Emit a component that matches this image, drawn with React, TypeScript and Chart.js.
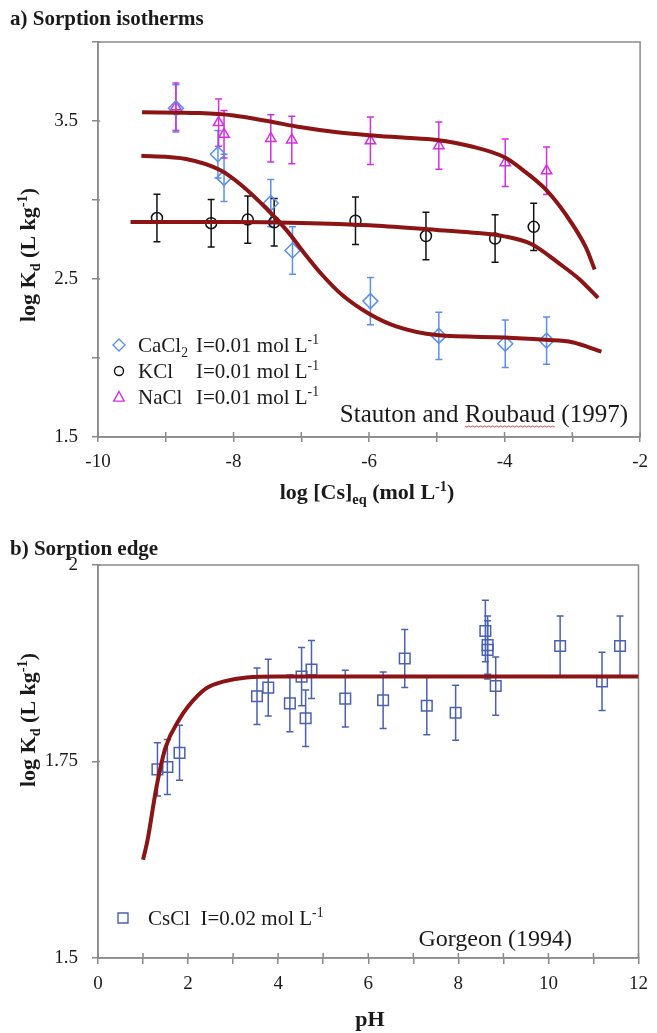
import React, { useEffect, useRef } from 'react';
import { Chart, registerables } from 'chart.js';

Chart.register(...registerables);

// ---------- Panel a: sorption isotherms ----------
const caX = [-8.85, -8.23, -8.14, -7.45, -7.13, -5.98, -4.97, -3.99, -3.38];
const caY = [3.58, 3.29, 3.14, 2.98, 2.68, 2.36, 2.14, 2.09, 2.11];
const caErr = [0.15, 0.15, 0.15, 0.15, 0.15, 0.15, 0.15, 0.15, 0.15];

const kX = [-9.13, -8.33, -7.79, -7.4, -6.2, -5.16, -4.14, -3.57];
const kY = [2.886, 2.853, 2.876, 2.859, 2.869, 2.772, 2.756, 2.83];
const kErr = [0.15, 0.15, 0.15, 0.15, 0.15, 0.15, 0.15, 0.15];

const naX = [-8.85, -8.22, -8.14, -7.45, -7.14, -5.98, -4.97, -3.99, -3.38];
const naY = [3.59, 3.49, 3.416, 3.39, 3.38, 3.375, 3.344, 3.236, 3.185];
const naErr = [0.15, 0.15, 0.15, 0.15, 0.15, 0.15, 0.15, 0.15, 0.15];

const caFitX = [-9.36, -8.7, -8.2, -7.9, -7.5, -7.2, -6.95, -6.7, -6.4, -6.0, -5.6, -5.0, -4.0, -3.4, -3.0, -2.57];
const caFitY = [3.28, 3.26, 3.19, 3.1, 2.94, 2.8, 2.66, 2.53, 2.4, 2.28, 2.2, 2.145, 2.13, 2.115, 2.1, 2.04];

const kFitX = [-9.52, -8.0, -7.0, -6.0, -5.0, -4.5, -4.0, -3.6, -3.2, -2.9, -2.62];
const kFitY = [2.86, 2.86, 2.855, 2.84, 2.81, 2.795, 2.77, 2.72, 2.6, 2.5, 2.38];

const naFitX = [-9.35, -8.5, -8.0, -7.5, -7.0, -6.5, -6.0, -5.5, -5.0, -4.5, -4.0, -3.7, -3.4, -3.1, -2.8, -2.67];
const naFitY = [3.555, 3.55, 3.535, 3.5, 3.46, 3.43, 3.41, 3.395, 3.38, 3.34, 3.27, 3.18, 3.07, 2.91, 2.7, 2.56];

// ---------- Panel b: sorption edge ----------
const phX = [1.32, 1.54, 1.81, 3.53, 3.78, 4.26, 4.52, 4.61, 4.74, 5.49, 6.33, 6.81, 7.3, 7.94, 8.6, 8.65, 8.65, 8.83, 10.26, 11.19, 11.59];
const phY = [1.74, 1.743, 1.761, 1.833, 1.844, 1.824, 1.858, 1.805, 1.867, 1.83, 1.828, 1.881, 1.821, 1.812, 1.916, 1.898, 1.892, 1.846, 1.897, 1.852, 1.897];
const phErr = [0.034, 0.035, 0.035, 0.036, 0.036, 0.036, 0.037, 0.036, 0.037, 0.036, 0.036, 0.037, 0.037, 0.035, 0.039, 0.037, 0.037, 0.037, 0.038, 0.037, 0.038];

const phFitX = [1.0, 1.1, 1.3, 1.5, 1.8, 2.0, 2.4, 2.8, 3.3, 4.0, 12.0];
const phFitY = [1.625, 1.65, 1.718, 1.768, 1.803, 1.82, 1.843, 1.852, 1.857, 1.858, 1.858];

const topXTicks = [-10, -8, -6, -4, -2];
const topYTicks = [1.5, 2.5, 3.5];
const botXTicks = [0, 2, 4, 6, 8, 10, 12];
const botYTicks = [1.5, 1.75, 2];

const FONT = '"Liberation Serif", "Times New Roman", serif';
const FIT = '#8c1414';
const AXIS = '#8a8a8a';
const TXT = '#1a1a1a';
const C_CA = '#5b8ff0';
const C_K = '#111111';
const C_NA = '#d22fe0';
const C_CS = '#4a60b2';

type Seg = { t: string; s?: 'sub' | 'sup' };

function segFont(size: number, bold: boolean, s?: string) {
  const fs = s ? size * 0.65 : size;
  return `${bold ? 'bold ' : ''}${fs}px ${FONT}`;
}
function richWidth(ctx: CanvasRenderingContext2D, segs: Seg[], size: number, bold: boolean) {
  let w = 0;
  for (const sg of segs) {
    ctx.font = segFont(size, bold, sg.s);
    w += ctx.measureText(sg.t).width;
  }
  return w;
}
function drawRich(ctx: CanvasRenderingContext2D, segs: Seg[], x: number, y: number, size: number, bold: boolean, color: string, align = 'left') {
  const w = richWidth(ctx, segs, size, bold);
  let cx = align === 'center' ? x - w / 2 : align === 'right' ? x - w : x;
  ctx.save();
  ctx.fillStyle = color;
  ctx.textAlign = 'left';
  ctx.textBaseline = 'alphabetic';
  const starts: number[] = [];
  for (const sg of segs) {
    ctx.font = segFont(size, bold, sg.s);
    const dy = sg.s === 'sub' ? size * 0.22 : sg.s === 'sup' ? -size * 0.38 : 0;
    starts.push(cx);
    ctx.fillText(sg.t, cx, y + dy);
    cx += ctx.measureText(sg.t).width;
  }
  starts.push(cx);
  ctx.restore();
  return starts;
}

function pts(xs: number[], ys: number[]) {
  return xs.map((x, i) => ({ x, y: ys[i] }));
}

function marker(ctx: CanvasRenderingContext2D, kind: string, x: number, y: number, r: number, color: string) {
  ctx.save();
  ctx.strokeStyle = color;
  ctx.lineWidth = 1.4;
  ctx.beginPath();
  if (kind === 'diamond') {
    ctx.moveTo(x, y - r); ctx.lineTo(x + r, y); ctx.lineTo(x, y + r); ctx.lineTo(x - r, y); ctx.closePath();
  } else if (kind === 'circle') {
    ctx.arc(x, y, r, 0, Math.PI * 2);
  } else if (kind === 'triangle') {
    ctx.moveTo(x, y - r); ctx.lineTo(x + r * 0.95, y + r * 0.75); ctx.lineTo(x - r * 0.95, y + r * 0.75); ctx.closePath();
  } else {
    ctx.rect(x - r, y - r, 2 * r, 2 * r);
  }
  ctx.stroke();
  ctx.restore();
}

const errorBarPlugin = {
  id: 'errorBars',
  beforeDatasetsDraw(chart: any) {
    const { ctx } = chart;
    const xs = chart.scales.x;
    const ys = chart.scales.y;
    chart.data.datasets.forEach((ds: any) => {
      if (!ds.errors) return;
      ctx.save();
      ctx.strokeStyle = ds.errColor;
      ctx.lineWidth = 1.5;
      ds.data.forEach((p: any, i: number) => {
        const e = ds.errors[i];
        const px = xs.getPixelForValue(p.x);
        const y1 = ys.getPixelForValue(p.y + e);
        const y2 = ys.getPixelForValue(p.y - e);
        ctx.beginPath();
        ctx.moveTo(px, y1); ctx.lineTo(px, y2);
        ctx.moveTo(px - 3.5, y1); ctx.lineTo(px + 3.5, y1);
        ctx.moveTo(px - 3.5, y2); ctx.lineTo(px + 3.5, y2);
        ctx.stroke();
      });
      ctx.restore();
    });
  },
};

const boxPlugin = {
  id: 'box',
  beforeDatasetsDraw(chart: any) {
    const { ctx, chartArea: a } = chart;
    ctx.save();
    ctx.strokeStyle = AXIS;
    ctx.lineWidth = 1.5;
    ctx.strokeRect(a.left, a.top, a.right - a.left, a.bottom - a.top);
    // inner half of the x ticks (ticks cross the axis)
    const xs = chart.scales.x;
    ctx.beginPath();
    xs.ticks.forEach((t: any) => {
      const px = xs.getPixelForValue(t.value);
      ctx.moveTo(px, a.bottom);
      ctx.lineTo(px, a.bottom - 5);
    });
    const ys = chart.scales.y;
    ys.ticks.forEach((t: any) => {
      const py = ys.getPixelForValue(t.value);
      ctx.moveTo(a.left, py);
      ctx.lineTo(a.left + 2, py);
    });
    ctx.stroke();
    ctx.restore();
  },
};

function axisScale(min: number, max: number, step: number, labels: number[], decimals: number, tickPad: number, tickLen: number, fit: (s: any) => void) {
  return {
    type: 'linear',
    min,
    max,
    afterFit: fit,
    border: { display: true, color: AXIS, width: 1.5 },
    grid: { display: true, drawOnChartArea: false, drawTicks: true, tickLength: tickLen, color: AXIS, tickColor: AXIS, lineWidth: 1.5 },
    ticks: {
      stepSize: step,
      autoSkip: false,
      maxRotation: 0,
      padding: tickPad,
      color: TXT,
      font: { family: FONT, size: 19 },
      callback: (v: number) => {
        const hit = labels.some((l) => Math.abs(l - v) < 1e-6);
        return hit ? String(Number(v.toFixed(decimals))) : '';
      },
    },
  };
}

function makeTopConfig() {
  const overlay = {
    id: 'overlayA',
    afterDraw(chart: any) {
      const ctx: CanvasRenderingContext2D = chart.ctx;
      drawRich(ctx, [{ t: 'a) Sorption isotherms' }], 10, 25, 21, true, TXT);
      ctx.save();
      ctx.translate(27, 255);
      ctx.rotate(-Math.PI / 2);
      drawRich(ctx, [{ t: 'log K' }, { t: 'd', s: 'sub' }, { t: ' (L kg' }, { t: '-1', s: 'sup' }, { t: ')' }], 0, 8, 22, true, TXT, 'center');
      ctx.restore();
      drawRich(ctx, [{ t: 'log [Cs]' }, { t: 'eq', s: 'sub' }, { t: ' (mol L' }, { t: '-1', s: 'sup' }, { t: ')' }], 367, 499, 22, true, TXT, 'center');
      const rows = [
        { kind: 'diamond', color: C_CA, name: [{ t: 'CaCl' }, { t: '2', s: 'sub' }] as Seg[], y: 345, r: 6 },
        { kind: 'circle', color: C_K, name: [{ t: 'KCl' }] as Seg[], y: 371, r: 4.5 },
        { kind: 'triangle', color: C_NA, name: [{ t: 'NaCl' }] as Seg[], y: 397, r: 5.5 },
      ];
      rows.forEach((r) => {
        marker(ctx, r.kind, 119, r.y, r.r, r.color);
        drawRich(ctx, r.name, 138, r.y + 7, 21, false, TXT);
        drawRich(ctx, [{ t: 'I=0.01 mol L' }, { t: '-1', s: 'sup' }], 196, r.y + 7, 21, false, TXT);
      });
      const st = drawRich(ctx, [{ t: 'Stauton and ' }, { t: 'Roubaud' }, { t: ' (1997)' }], 628, 422, 25, false, TXT, 'right');
      ctx.save();
      ctx.strokeStyle = '#e05050';
      ctx.lineWidth = 1;
      ctx.beginPath();
      for (let xx = st[1]; xx <= st[2]; xx += 2) {
        const yy = 426 + ((Math.round((xx - st[1]) / 2) % 2) ? 1 : 0);
        if (xx === st[1]) ctx.moveTo(xx, yy); else ctx.lineTo(xx, yy);
      }
      ctx.stroke();
      ctx.restore();
    },
  };
  return {
    type: 'scatter',
    data: {
      datasets: [
        { type: 'line', data: pts(caFitX, caFitY), borderColor: FIT, borderWidth: 4, pointRadius: 0, cubicInterpolationMode: 'monotone', fill: false, order: 0 },
        { type: 'line', data: pts(kFitX, kFitY), borderColor: FIT, borderWidth: 4, pointRadius: 0, cubicInterpolationMode: 'monotone', fill: false, order: 0 },
        { type: 'line', data: pts(naFitX, naFitY), borderColor: FIT, borderWidth: 4, pointRadius: 0, cubicInterpolationMode: 'monotone', fill: false, order: 0 },
        { data: pts(caX, caY), errors: caErr, errColor: C_CA, pointStyle: 'rectRot', pointRadius: 7.5, borderColor: C_CA, backgroundColor: 'rgba(0,0,0,0)', borderWidth: 1.5, order: 1 },
        { data: pts(kX, kY), errors: kErr, errColor: C_K, pointStyle: 'circle', pointRadius: 5.5, borderColor: C_K, backgroundColor: 'rgba(0,0,0,0)', borderWidth: 1.5, order: 1 },
        { data: pts(naX, naY), errors: naErr, errColor: C_NA, pointStyle: 'triangle', pointRadius: 6, borderColor: C_NA, backgroundColor: 'rgba(0,0,0,0)', borderWidth: 1.5, order: 1 },
      ],
    },
    options: {
      responsive: false,
      animation: false,
      devicePixelRatio: 1,
      layout: { padding: { top: 42, right: 12, left: 0, bottom: 0 } },
      plugins: { legend: { display: false }, tooltip: { enabled: false } },
      scales: {
        x: axisScale(-10, -2, 1, topXTicks, 0, 9, 5, (s: any) => { s.height = 83; }),
        y: axisScale(1.5, 4, 0.5, topYTicks, 2, 14, 6, (s: any) => { s.width = 98; }),
      },
    },
    plugins: [boxPlugin, errorBarPlugin, overlay],
  };
}

function makeBottomConfig() {
  const overlay = {
    id: 'overlayB',
    afterDraw(chart: any) {
      const ctx: CanvasRenderingContext2D = chart.ctx;
      drawRich(ctx, [{ t: 'b) Sorption edge' }], 10, 35, 21, true, TXT);
      ctx.save();
      ctx.translate(27, 200);
      ctx.rotate(-Math.PI / 2);
      drawRich(ctx, [{ t: 'log K' }, { t: 'd', s: 'sub' }, { t: ' (L kg' }, { t: '-1', s: 'sup' }, { t: ')' }], 0, 8, 22, true, TXT, 'center');
      ctx.restore();
      drawRich(ctx, [{ t: 'pH' }], 370, 506, 22, true, TXT, 'center');
      marker(ctx, 'square', 123, 398, 5, C_CS);
      drawRich(ctx, [{ t: 'CsCl  I=0.02 mol L' }, { t: '-1', s: 'sup' }], 148, 405, 21, false, TXT);
      drawRich(ctx, [{ t: 'Gorgeon (1994)' }], 572, 426, 24, false, TXT, 'right');
    },
  };
  return {
    type: 'scatter',
    data: {
      datasets: [
        { type: 'line', data: pts(phFitX, phFitY), borderColor: FIT, borderWidth: 4, pointRadius: 0, cubicInterpolationMode: 'monotone', fill: false, order: 0 },
        { data: pts(phX, phY), errors: phErr, errColor: C_CS, pointStyle: 'rect', pointRadius: 7.5, borderColor: C_CS, backgroundColor: 'rgba(0,0,0,0)', borderWidth: 1.5, order: 1 },
      ],
    },
    options: {
      responsive: false,
      animation: false,
      devicePixelRatio: 1,
      layout: { padding: { top: 45, right: 12, left: 0, bottom: 0 } },
      plugins: { legend: { display: false }, tooltip: { enabled: false } },
      scales: {
        x: axisScale(0, 12, 1, botXTicks, 0, 9, 6, (s: any) => { s.height = 75; }),
        y: axisScale(1.5, 2, 0.25, botYTicks, 2, 14, 6, (s: any) => { s.width = 98; }),
      },
    },
    plugins: [boxPlugin, errorBarPlugin, overlay],
  };
}

function Panel({ top, height, make }: { top: number; height: number; make: () => any }) {
  const ref = useRef<HTMLCanvasElement>(null);
  useEffect(() => {
    const chart = new Chart(ref.current as HTMLCanvasElement, make());
    return () => chart.destroy();
  }, []);
  return (
    <div style={{ position: 'absolute', left: 0, top, width: 657, height }}>
      <canvas ref={ref} width={657} height={height} style={{ display: 'block', width: 657, height }} />
    </div>
  );
}

export default function App() {
  return (
    <div style={{ position: 'absolute', left: 0, top: 0, width: 657, height: 1033, background: '#fff' }}>
      <Panel top={0} height={520} make={makeTopConfig} />
      <Panel top={520} height={513} make={makeBottomConfig} />
    </div>
  );
}
